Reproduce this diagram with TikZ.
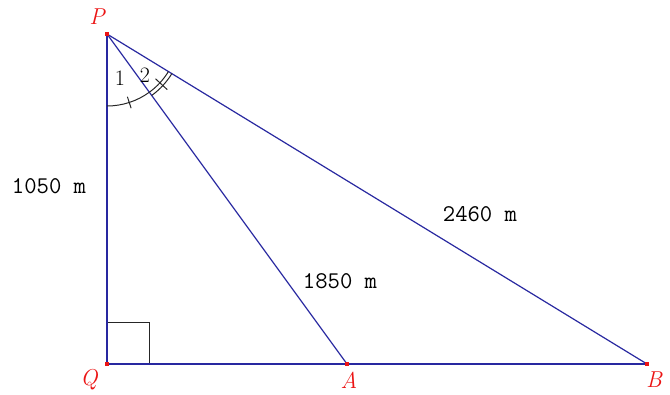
\documentclass[tikz,border=0pt]{standalone}
\definecolor{lineblue}{RGB}{40,40,160}
\definecolor{ptred}{RGB}{235,20,20}
\tikzset{
  side/.style={draw=lineblue,line width=1.2pt},
  markline/.style={draw=black!85,line width=1pt},
  vertexdot/.style={fill=ptred,draw=none,minimum size=4pt,inner sep=0pt,rectangle},
  ptlabel/.style={text=ptred,font=\fontsize{23}{26}\selectfont\itshape,inner sep=0pt},
  lenlabel/.style={font=\fontsize{24}{27}\selectfont\ttfamily,inner sep=0pt},
  anglabel/.style={font=\fontsize{22}{24}\selectfont,inner sep=0pt}
}
\begin{document}
\begin{tikzpicture}[x=1pt,y=-1pt]
\useasboundingbox (0,0) rectangle (670,394);
\coordinate (P) at (107,34);
\coordinate (Q) at (107,364);
\coordinate (A) at (347,364);
\coordinate (B) at (647,364);
% right angle
\draw[markline] (107,322) -- (149,322) -- (149,364);
% sides
\draw[side] (P) -- (Q);
\draw[side] (Q) -- (B);
\draw[side] (P) -- (A);
\draw[side] (P) -- (B);
% angle marks
\draw[markline] (P) ++(270:72pt) arc[start angle=270,end angle=306.03,radius=72pt];
\draw[markline] (P) ++(288:66pt) -- ++(288:12pt);
\draw[markline] (P) ++(306.03:72pt) arc[start angle=306.03,end angle=328.57,radius=72pt];
\draw[markline] (P) ++(306.03:76pt) arc[start angle=306.03,end angle=328.57,radius=76pt];
\draw[markline] (P) ++(317.3:66pt) -- ++(317.3:16pt);
% vertex dots
\node[vertexdot] (dP) at (P) {};
\node[vertexdot] (dQ) at (Q) {};
\node[vertexdot] (dA) at (A) {};
\node[vertexdot] (dB) at (B) {};
% labels
\node[ptlabel] (lP) at (97,17) {P};
\node[ptlabel] (lQ) at (89,380) {Q};
\node[ptlabel] (lA) at (349,380) {A};
\node[ptlabel] (lB) at (654,380) {B};
\node[anglabel] (l1) at (120,78) {1};
\node[anglabel] (l2) at (145,75) {2};
\node[lenlabel] (s1) at (49,186) {1050 m};
\node[lenlabel] (s2) at (340,281) {1850 m};
\node[lenlabel] (s3) at (480,214) {2460 m};
\end{tikzpicture}
\end{document}
